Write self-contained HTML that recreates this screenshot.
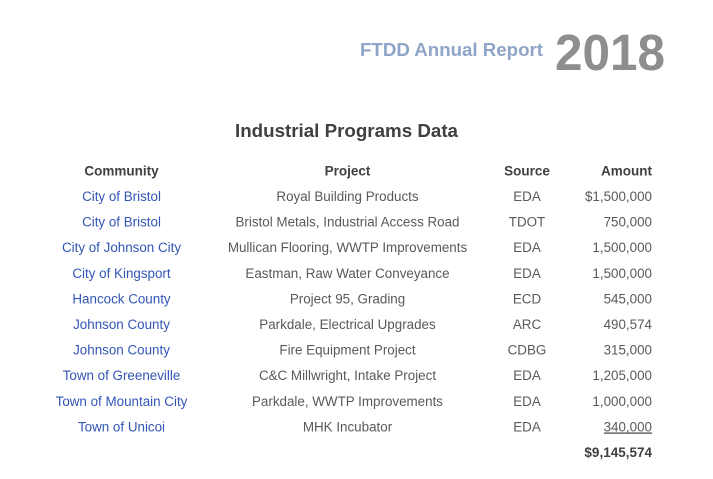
<!DOCTYPE html>
<html>
<head>
<meta charset="utf-8">
<style>
  html, body { margin:0; padding:0; background:#ffffff; }
  body { width:713px; height:479px; overflow:hidden; }
  svg { display:block; }
  .t { font-family:"Liberation Sans", sans-serif; }
  .hd { font-weight:bold; fill:#404040; font-size:13.5px; }
  .bl { fill:#3356B6; font-size:13.4px; }
  .gr { fill:#595959; font-size:13.4px; }
</style>
</head>
<body>
<svg width="713" height="479" viewBox="0 0 713 479" xmlns="http://www.w3.org/2000/svg">
  <rect width="713" height="479" fill="#ffffff"/>
  <!-- Title -->
  <text class="t" x="360" y="56" font-size="18.6" font-weight="bold" fill="#8EA4C8" textLength="183" lengthAdjust="spacingAndGlyphs">FTDD Annual Report</text>
  <text class="t" x="555" y="70" font-size="51" font-weight="bold" fill="#8E8E8E" textLength="110" lengthAdjust="spacingAndGlyphs">2018</text>

  <text class="t" x="235" y="137" font-size="18.8" font-weight="bold" fill="#404040" textLength="223" lengthAdjust="spacingAndGlyphs">Industrial Programs Data</text>

  <!-- Headers -->
  <g class="t hd">
    <text x="121.5" y="175.5" text-anchor="middle">Community</text>
    <text x="347.5" y="175.5" text-anchor="middle">Project</text>
    <text x="527" y="175.5" text-anchor="middle">Source</text>
    <text x="652" y="175.5" text-anchor="end">Amount</text>
  </g>

  <!-- Community -->
  <g class="t bl" text-anchor="middle">
    <text x="121.5" y="201">City of Bristol</text>
    <text x="121.5" y="226.6">City of Bristol</text>
    <text x="121.5" y="252.2">City of Johnson City</text>
    <text x="121.5" y="277.8">City of Kingsport</text>
    <text x="121.5" y="303.4">Hancock County</text>
    <text x="121.5" y="329">Johnson County</text>
    <text x="121.5" y="354.6">Johnson County</text>
    <text x="121.5" y="380.2">Town of Greeneville</text>
    <text x="121.5" y="405.8">Town of Mountain City</text>
    <text x="121.5" y="431.4">Town of Unicoi</text>
  </g>

  <!-- Project -->
  <g class="t gr" text-anchor="middle">
    <text x="347.5" y="201">Royal Building Products</text>
    <text x="347.5" y="226.6">Bristol Metals, Industrial Access Road</text>
    <text x="347.5" y="252.2">Mullican Flooring, WWTP Improvements</text>
    <text x="347.5" y="277.8">Eastman, Raw Water Conveyance</text>
    <text x="347.5" y="303.4">Project 95, Grading</text>
    <text x="347.5" y="329">Parkdale, Electrical Upgrades</text>
    <text x="347.5" y="354.6">Fire Equipment Project</text>
    <text x="347.5" y="380.2">C&amp;C Millwright, Intake Project</text>
    <text x="347.5" y="405.8">Parkdale, WWTP Improvements</text>
    <text x="347.5" y="431.4">MHK Incubator</text>
  </g>

  <!-- Source -->
  <g class="t gr" text-anchor="middle">
    <text x="527" y="201">EDA</text>
    <text x="527" y="226.6">TDOT</text>
    <text x="527" y="252.2">EDA</text>
    <text x="527" y="277.8">EDA</text>
    <text x="527" y="303.4">ECD</text>
    <text x="527" y="329">ARC</text>
    <text x="527" y="354.6">CDBG</text>
    <text x="527" y="380.2">EDA</text>
    <text x="527" y="405.8">EDA</text>
    <text x="527" y="431.4">EDA</text>
  </g>

  <!-- Amount -->
  <g class="t gr" text-anchor="end">
    <text x="652" y="201">$1,500,000</text>
    <text x="652" y="226.6">750,000</text>
    <text x="652" y="252.2">1,500,000</text>
    <text x="652" y="277.8">1,500,000</text>
    <text x="652" y="303.4">545,000</text>
    <text x="652" y="329">490,574</text>
    <text x="652" y="354.6">315,000</text>
    <text x="652" y="380.2">1,205,000</text>
    <text x="652" y="405.8">1,000,000</text>
    <text x="652" y="431.4">340,000</text>
  </g>
  <rect x="604" y="432.5" width="48" height="1.2" fill="#404040"/>

  <text class="t hd" x="652" y="457" text-anchor="end">$9,145,574</text>
</svg>
</body>
</html>
